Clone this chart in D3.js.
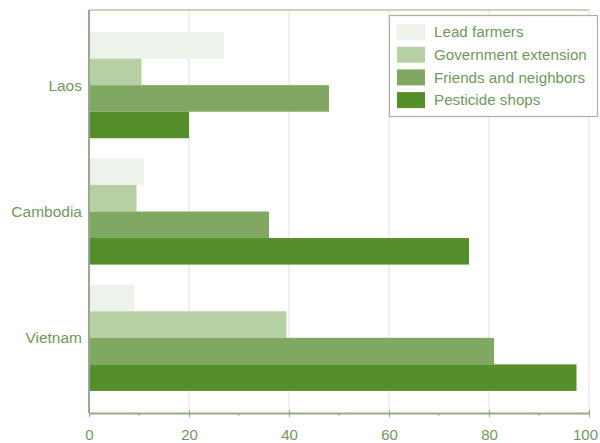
<!DOCTYPE html>
<html>
<head>
<meta charset="utf-8">
<script src="https://cdn.jsdelivr.net/npm/d3@7"></script>
<style>
  html, body { margin: 0; padding: 0; background: #fff; }
  svg { display: block; font-family: Arial, "Liberation Sans", sans-serif; }
</style>
</head>
<body>
<svg id="chart" width="600" height="443"></svg>
<script>
const categories = ["Laos", "Cambodia", "Vietnam"];
const seriesNames = ["Lead farmers", "Government extension", "Friends and neighbors", "Pesticide shops"];
const leadFarmers = [27, 11, 9];
const governmentExtension = [10.5, 9.5, 39.5];
const friendsNeighbors = [48, 36, 81];
const pesticideShops = [20, 76, 97.5];
const seriesColors = ["#edf2ea", "#b6cfa3", "#80a862", "#558f2b"];
const xTicks = [0, 20, 40, 60, 80, 100];
const xMinorTicks = [10, 30, 50, 70, 90];

const seriesValues = [leadFarmers, governmentExtension, friendsNeighbors, pesticideShops];

const svg = d3.select("#chart");
const pLeft = 89, pRight = 589, pTop = 10, pBottom = 413;
const textColor = "#729760";
const axisColor = "#9aa890";

const x = d3.scaleLinear().domain([0, 100]).range([pLeft, pRight]);
const y = d3.scaleBand().domain(categories).range([22, 401]).paddingInner(0.16).paddingOuter(0.08);
const ySub = d3.scaleBand().domain(seriesNames).range([0, y.bandwidth()]);

// grid lines
svg.append("g").selectAll("line").data(xTicks.slice(1)).join("line")
  .attr("x1", d => x(d)).attr("x2", d => x(d))
  .attr("y1", pTop).attr("y2", pBottom)
  .attr("stroke", "#e4e6e2").attr("stroke-width", 1.2);

// top border
svg.append("line").attr("x1", pLeft).attr("x2", pRight).attr("y1", pTop).attr("y2", pTop)
  .attr("stroke", "#c9d6bd").attr("stroke-width", 2);

// bars
const groups = svg.append("g").selectAll("g").data(categories).join("g")
  .attr("transform", c => `translate(0,${y(c)})`);
groups.selectAll("rect").data((c, i) => seriesNames.map((s, j) => ({ s, j, v: seriesValues[j][i] })))
  .join("rect")
  .attr("x", x(0))
  .attr("y", d => ySub(d.s))
  .attr("width", d => x(d.v) - x(0))
  .attr("height", ySub.bandwidth())
  .attr("fill", d => seriesColors[d.j]);

// left axis line
svg.append("line").attr("x1", pLeft).attr("x2", pLeft).attr("y1", pTop).attr("y2", pBottom)
  .attr("stroke", axisColor).attr("stroke-width", 2);

// bottom axis
const xAxis = d3.axisBottom(x).tickValues(xTicks).tickSize(4).tickPadding(12).tickSizeOuter(0);
const gx = svg.append("g").attr("transform", `translate(0,${pBottom})`).call(xAxis);
gx.select(".domain").attr("stroke", axisColor).attr("stroke-width", 2);
gx.selectAll(".tick line").attr("stroke", axisColor).attr("y1", -3);
gx.selectAll(".tick text").attr("fill", textColor).attr("font-size", 15).attr("font-family", "Arial, sans-serif")
  .attr("dx", d => d === 100 ? -4 : 0);
svg.append("g").selectAll("line").data(xMinorTicks).join("line")
  .attr("x1", d => x(d)).attr("x2", d => x(d))
  .attr("y1", pBottom).attr("y2", pBottom + 3)
  .attr("stroke", axisColor);

// category labels
svg.append("g").selectAll("text").data(categories).join("text")
  .attr("x", 82)
  .attr("y", c => y(c) + y.bandwidth() / 2)
  .attr("dy", "0.35em")
  .attr("text-anchor", "end")
  .attr("fill", textColor)
  .attr("font-size", 15.5)
  .text(c => c);

// legend
const lg = svg.append("g");
lg.append("rect").attr("x", 389.5).attr("y", 15.5).attr("width", 208).attr("height", 101)
  .attr("fill", "#fff").attr("stroke", "#a9b3a1").attr("stroke-width", 1.2);
const items = lg.selectAll("g").data(seriesNames).join("g")
  .attr("transform", (d, i) => `translate(397,${32 + i * 22.7})`);
items.append("rect").attr("x", 0).attr("y", -8).attr("width", 28).attr("height", 16)
  .attr("fill", (d, i) => seriesColors[i]);
items.append("text").attr("x", 37).attr("y", 0).attr("dy", "0.35em")
  .attr("fill", textColor).attr("font-size", 15.2)
  .text(d => d);
</script>
</body>
</html>
